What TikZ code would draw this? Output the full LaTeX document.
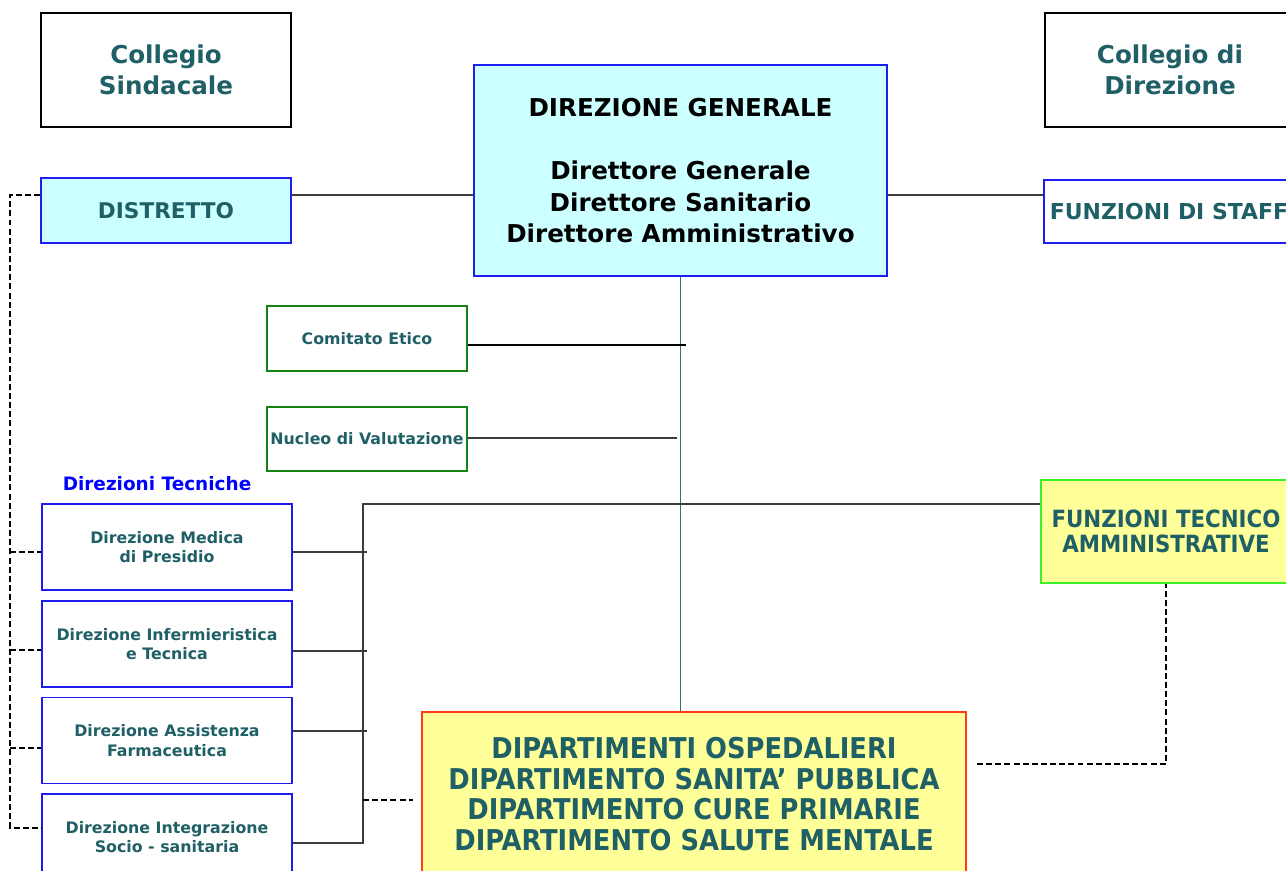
\documentclass[tikz,border=0pt]{standalone}
\usepackage{fontspec}
\setmainfont{DejaVu Sans}
\newfontfamily\condfont{DejaVu Sans Condensed}
\usetikzlibrary{positioning}
\definecolor{orgteal}{RGB}{31,95,102}
\definecolor{boxcyan}{RGB}{204,255,255}
\definecolor{boxblue}{RGB}{30,30,240}
\definecolor{boxyellow}{RGB}{255,255,153}
\definecolor{etigreen}{RGB}{20,130,20}
\definecolor{ftagreen}{RGB}{60,240,40}
\definecolor{dipred}{RGB}{255,60,20}
\definecolor{spinecol}{RGB}{60,110,120}
\definecolor{linkgray}{RGB}{60,60,60}

\begin{document}
\begin{tikzpicture}[
    x=0.02cm, y=-0.02cm,
    orgbox/.style={draw, line width=0.8pt, align=center, inner sep=2pt,
      text=orgteal, font=\bfseries},
    collbox/.style={orgbox, draw=black, minimum width=5cm, minimum height=2.28cm,
      font=\fontsize{14}{17.6}\selectfont\bfseries},
    unitbox/.style={orgbox, draw=boxblue, minimum width=5cm},
    tecbox/.style={unitbox, minimum height=1.72cm,
      font=\fontsize{9}{11}\selectfont\bfseries},
    organo/.style={orgbox, draw=etigreen, minimum width=4cm, minimum height=1.3cm,
      font=\fontsize{9}{11}\selectfont\bfseries},
    link/.style={draw=linkgray, line width=0.8pt},
    dashlink/.style={draw=black, line width=1pt, dash pattern=on 3.4pt off 1.8pt}
  ]
  \useasboundingbox (0,0) rectangle (1286,870);
  \clip (0,0) rectangle (1286,870);

  % organi collegiali
  \node[collbox] (sind) at (166,70) {Collegio\\Sindacale};
  \node[collbox] (cdir) at (1170,70) {Collegio di\\Direzione};

  % direzione generale
  \node[orgbox, draw=boxblue, fill=boxcyan, text=black,
    minimum width=8.26cm, minimum height=4.22cm,
    font=\fontsize{14}{18}\selectfont\bfseries] (dg) at (680.5,170.5)
    {DIREZIONE GENERALE\\[18pt]Direttore Generale\\Direttore Sanitario\\Direttore Amministrativo};

  \node[unitbox, fill=boxcyan, minimum height=1.3cm,
    font=\fontsize{12.3}{14}\selectfont\bfseries] (distr) at (166,210.5) {DISTRETTO};
  \node[unitbox, minimum height=1.26cm,
    font=\fontsize{12.5}{14}\selectfont\bfseries] (staff) at (1169,211.5) {FUNZIONI DI STAFF};

  \node[organo] (etico) at (367,338.5) {Comitato Etico};
  \node[organo, minimum height=1.28cm] (nucleo) at (367,439) {Nucleo di Valutazione};

  % direzioni tecniche
  \node[text=blue, font=\fontsize{10.5}{12}\selectfont\bfseries] (dtec) at (157,484) {Direzioni Tecniche};
  \node[tecbox] (medica) at (167,547) {Direzione Medica\\di Presidio};
  \node[tecbox] (inferm) at (167,644) {Direzione Infermieristica\\e Tecnica};
  \node[tecbox] (farma) at (167,740.5) {Direzione Assistenza\\Farmaceutica};
  \node[tecbox] (integr) at (167,837) {Direzione Integrazione\\Socio - sanitaria};

  \node[orgbox, draw=ftagreen, fill=boxyellow, minimum width=5cm, minimum height=2.06cm,
    font=\condfont\fontsize{13.5}{14.5}\selectfont\bfseries] (fta) at (1166,531.5)
    {FUNZIONI TECNICO\\AMMINISTRATIVE};

  \node[orgbox, draw=dipred, fill=boxyellow, minimum width=10.88cm, minimum height=3.28cm,
    font=\condfont\fontsize{16.3}{17.3}\selectfont\bfseries] (dip) at (694,794)
    {DIPARTIMENTI OSPEDALIERI\\DIPARTIMENTO SANITA’ PUBBLICA\\DIPARTIMENTO CURE PRIMARIE\\DIPARTIMENTO SALUTE MENTALE};

  % collegamenti
  \draw[link] (distr.east |- 0,195) -- (dg.west |- 0,195);
  \draw[link] (dg.east |- 0,195) -- (staff.west |- 0,195);
  \draw[draw=spinecol, line width=0.6pt] (dg.south) -- (dg.south |- dip.north);
  \draw[draw=black, line width=0.6pt] (etico.east |- 0,345) -- (686,345);
  \draw[link] (nucleo.east |- 0,438) -- (677,438);

  \coordinate (busT) at (363,504);
  \coordinate (busB) at (363,843);
  \draw[link, line width=1pt] (fta.west |- busT) -- (busT) -- (busB) -- (integr.east |- busB);
  \foreach \n/\y in {medica/552, inferm/651, farma/731}
    \draw[link] (\n.east |- 0,\y) -- (367,\y);
  \draw[dashlink] (busT |- 0,800) -- (413,800);

  \draw[dashlink] (distr.west |- 0,195) -- (10,195) -- (10,828) -- (integr.west |- 0,828);
  \foreach \n/\y in {medica/552, inferm/650, farma/748}
    \draw[dashlink] (10,\y) -- (\n.west |- 0,\y);
  \draw[dashlink] (977,764) -- (fta.south |- 0,764) -- (fta.south);
\end{tikzpicture}
\end{document}
